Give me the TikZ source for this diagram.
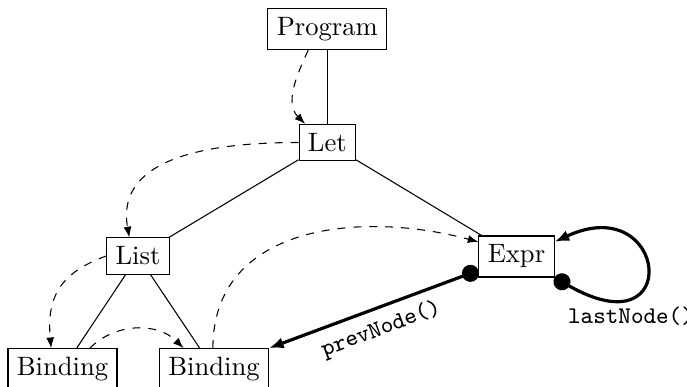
\documentclass[tikz,border=0pt]{standalone}
\usetikzlibrary{arrows.meta}
\begin{document}
\begin{tikzpicture}[x=0.376pt,y=0.376pt,
  box/.style={draw, inner sep=3.333pt},
  ptr/.style={dashed, -{Latex[length=4pt,width=3pt]}},
  fn/.style={very thick, {Circle[length=6.4pt]}-{Latex[length=5.5pt,width=4.2pt]}},
  fnlabel/.style={font=\small\ttfamily}]
\useasboundingbox (0,0) rectangle (687,-387);
\node[box] (prog) at (327.3,-29) {Program};
\node[box] (let) at (327.3,-142.5) {Let};
\node[box] (list) at (138,-256) {List};
\node[box] (b1) at (62.5,-369.5) {Binding};
\node[box] (b2) at (214,-369.5) {Binding};
\node[box] (expr) at (516.5,-256.5) {Expr};
\draw (prog) -- (let);
\draw (let) -- (list);
\draw (let) -- (expr);
\draw (list) -- (b1);
\draw (list) -- (b2);
\draw[ptr] (prog.228) to[out=245,in=135] (let.140);
\draw[ptr] (let.west) to[out=180,in=100,looseness=1.1] (list.115);
\draw[ptr] (list.west) to[out=200,in=95,looseness=1.2] (b1.118);
\draw[ptr] (b1.38) to[out=45,in=135] (b2.145);
\draw[ptr] (b2.93) to[out=90,in=165,looseness=1.1] (expr.159);
\draw[fn] (expr.200) -- node[fnlabel, midway, below, sloped] (prevlbl) {prevNode()} (b2.north east);
\draw[fn] (expr.south east) .. controls +(-30:150) and +(25:125) .. (expr.21);
\node[fnlabel] (lastlbl) at (631,-316) {lastNode()};
\end{tikzpicture}
\end{document}
